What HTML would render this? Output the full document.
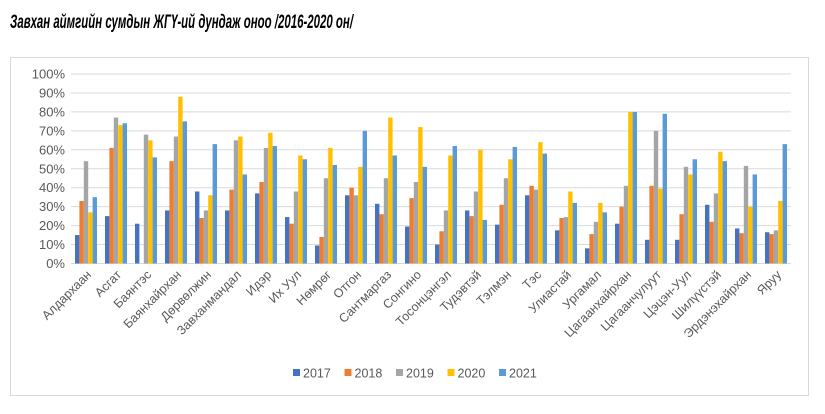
<!DOCTYPE html>
<html><head><meta charset="utf-8"><style>
body{margin:0;background:#fff;width:825px;height:409px;overflow:hidden;font-family:"Liberation Sans",sans-serif}
</style></head><body>
<svg id="c" width="825" height="409" xmlns="http://www.w3.org/2000/svg">
<text x="10" y="28" font-family="Liberation Sans, sans-serif" font-weight="bold" font-style="italic" font-size="19" textLength="343" lengthAdjust="spacingAndGlyphs" fill="#000">Завхан аймгийн сумдын ЖГҮ-ий дундаж оноо /2016-2020 он/</text>
<rect x="10.5" y="57.5" width="798" height="338" fill="#fff" stroke="#d9d9d9"/>
<g id="grid"></g><g id="bars"></g><g id="xl"></g><g id="leg"></g>
</svg>
<script>
const categories=["Алдархаан","Асгат","Баянтэс","Баянхайрхан","Дөрвөлжин","Завханмандал","Идэр","Их Уул","Нөмрөг","Отгон","Сантмаргаз","Сонгино","Тосонцэнгэл","Тудэвтэй","Тэлмэн","Тэс","Улиастай","Ургамал","Цагаанхайрхан","Цагаанчулуут","Цэцэн-Уул","Шилүүстэй","Эрдэнэхайрхан","Яруу"];
const seriesNames=["2017","2018","2019","2020","2021"];
const colors=["#4472C4","#ED7D31","#A5A5A5","#FFC000","#5B9BD5"];
const s2017=[15,25,21,28,38,28,37,24.5,9.5,36,31.5,19.5,10,28,20.5,36,17.5,8,21,12.5,12.5,31,18.5,16.5];
const s2018=[33,61,0,54,24,39,43,21,14,40,26,34.5,17,25,31,41,24,15.5,30,41,26,22,16,15.5];
const s2019=[54,77,68,67,28,65,61,38,45,36,45,43,28,38,45,39,24.5,22,41,70,51,37,51.5,17.5];
const s2020=[27,73,65,88,36,67,69,57,61,51,77,72,57,60,55,64,38,32,80,39.5,47,59,30,33];
const s2021=[35,74,56,75,63,47,62,55,52,70,57,51,62,23,61.5,58,32,27,80,79,55,54,47,63];
const series=[s2017,s2018,s2019,s2020,s2021];
const yTicks=[0,10,20,30,40,50,60,70,80,90,100];
const tickLabels=yTicks.map(v=>v+"%");
const NS="http://www.w3.org/2000/svg";
const X0=71,X1=791,Y0=263.5,Y1=74;
const band=(X1-X0)/categories.length;
const y=v=>Y0-(v/100)*(Y0-Y1);
const xc=i=>X0+band*i+band/2;
function mk(t,a,p){const e=document.createElementNS(NS,t);for(const k in a)e.setAttribute(k,a[k]);p.appendChild(e);return e;}
const grid=document.getElementById('grid');
yTicks.forEach((v,i)=>{
 const l=mk('line',{x1:X0,x2:X1,y1:y(v),y2:y(v),stroke:'#d9d9d9','stroke-width':1},grid);
 
 
 const t=mk('text',{x:X0-6,y:y(v)+4.5,'text-anchor':'end','font-size':13,fill:'#595959'},grid);
 t.textContent=tickLabels[i];
 
 
});
const bars=document.getElementById('bars');
const bw=4.4, gw=bw*5;
categories.forEach((c,i)=>{
 series.forEach((s,j)=>{
  const v=s[i]; if(!v) return;
  const r=mk('rect',{x:xc(i)-gw/2+j*bw,y:y(v),width:bw,height:Y0-y(v),fill:colors[j]},bars);
  
  
 });
 const t=mk('text',{x:0,y:0,'text-anchor':'end','font-size':12.5,fill:'#595959',transform:`translate(${xc(i)+6},${Y0+12}) rotate(-45)`},document.getElementById('xl'));
 t.textContent=c;
 
 
});
const leg=document.getElementById('leg');
seriesNames.forEach((n,j)=>{
 const lx=293+j*51.5;
 const g=mk('g',{},leg);
 
 
 mk('rect',{x:lx,y:369,width:7,height:7,fill:colors[j]},g);
 const t=mk('text',{x:lx+10,y:377.5,'font-size':12.5,fill:'#595959'},g);
 t.textContent=n;
});
</script>
</body></html>
